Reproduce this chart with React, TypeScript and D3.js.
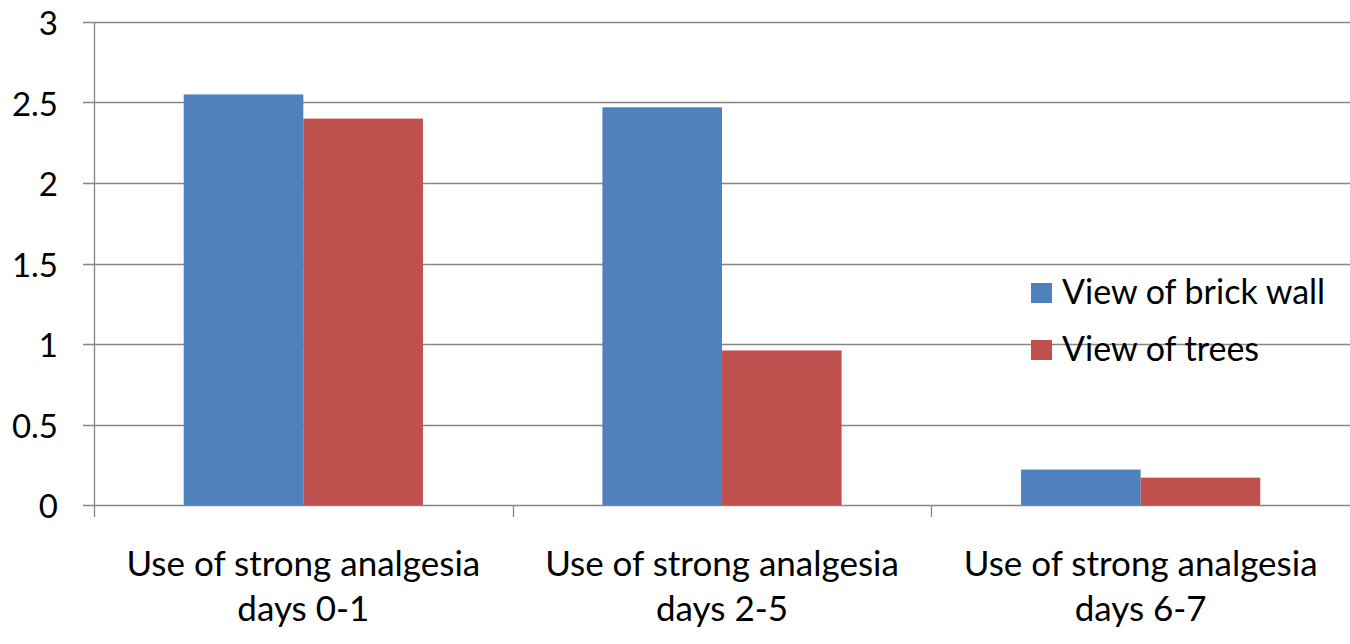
import React from "react";
import * as d3 from "d3";

const categories = ["days 0-1", "days 2-5", "days 6-7"];
const categoryLine1 = "Use of strong analgesia";
const seriesNames = ["View of brick wall", "View of trees"];
const brickWall = [2.55, 2.47, 0.22];
const trees = [2.4, 0.96, 0.17];
const seriesColors = ["#4F81BD", "#C0504D"];
const yTicks = [0, 0.5, 1, 1.5, 2, 2.5, 3];

const W = 1350;
const H = 644;
const FONT = "Lato, 'Open Sans', sans-serif";

export default function App() {
  const left = 94;
  const right = 1350;
  const top = 22;
  const bottom = 505;
  const x = d3.scaleBand<string>().domain(categories).range([left, right]).padding(0);
  const xs = d3
    .scaleBand<string>()
    .domain(seriesNames)
    .range([0, x.bandwidth()])
    .paddingInner(0)
    .paddingOuter(0.75);
  const y = d3.scaleLinear().domain([0, 3]).range([bottom, top]);
  const values = [brickWall, trees];
  const grid = "#868686";

  return (
    <svg
      width={W}
      height={H}
      style={{ position: "absolute", left: 0, top: 0, background: "#fff" }}
      fontFamily={FONT}
    >
      {yTicks.map((t) => (
        <g key={t}>
          <line x1={83} x2={right} y1={Math.round(y(t)) + 0.5} y2={Math.round(y(t)) + 0.5} stroke={grid} strokeWidth={1.3} />
          <text x={58} y={y(t)} textAnchor="end" dominantBaseline="central" fontSize={33} fill="#000">
            {String(t)}
          </text>
        </g>
      ))}
      <line x1={left + 0.5} x2={left + 0.5} y1={top} y2={bottom + 12} stroke={grid} strokeWidth={1.3} />
      {categories.map((c, i) =>
        i > 0 ? (
          <line key={c} x1={Math.round(x(c)!) + 0.5} x2={Math.round(x(c)!) + 0.5} y1={bottom} y2={bottom + 12} stroke={grid} strokeWidth={1.3} />
        ) : null
      )}
      {values.map((vals, si) =>
        vals.map((v, ci) => (
          <rect
            key={`${si}-${ci}`}
            x={x(categories[ci])! + xs(seriesNames[si])!}
            y={y(v)}
            width={xs.bandwidth()}
            height={y(0) - y(v)}
            fill={seriesColors[si]}
          />
        ))
      )}
      {categories.map((c) => {
        const cx = x(c)! + x.bandwidth() / 2;
        return (
          <text key={c} x={cx} textAnchor="middle" fontSize={35} fill="#000">
            <tspan x={cx} y={576}>{categoryLine1}</tspan>
            <tspan x={cx} y={621}>{c}</tspan>
          </text>
        );
      })}
      {seriesNames.map((s, i) => (
        <g key={s}>
          <rect x={1031} y={283 + i * 57} width={21} height={20} fill={seriesColors[i]} />
          <text x={1062} y={304 + i * 57} fontSize={34} fill="#000">
            {s}
          </text>
        </g>
      ))}
    </svg>
  );
}
